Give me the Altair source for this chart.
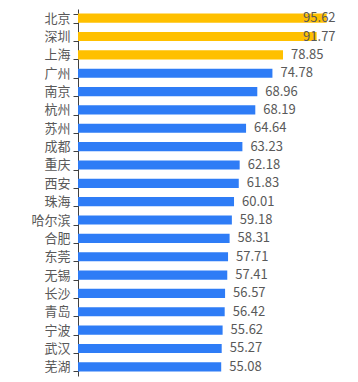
import altair as alt
import pandas as pd

cities = ["北京", "深圳", "上海", "广州", "南京", "杭州", "苏州", "成都", "重庆", "西安",
          "珠海", "哈尔滨", "合肥", "东莞", "无锡", "长沙", "青岛", "宁波", "武汉", "芜湖"]
values = [95.62, 91.77, 78.85, 74.78, 68.96, 68.19, 64.64, 63.23, 62.18, 61.83,
          60.01, 59.18, 58.31, 57.71, 57.41, 56.57, 56.42, 55.62, 55.27, 55.08]
groups = ["top"] * 3 + ["other"] * 17

df = pd.DataFrame({"city": cities, "value": values, "group": groups})

FONT = "Noto Sans CJK SC"

y_enc = alt.Y("city:N", sort=cities, title=None,
              scale=alt.Scale(paddingInner=0.5, paddingOuter=0.25),
              axis=alt.Axis(tickBand="extent", tickSize=5, tickColor="#404040",
                            domainColor="#404040", labelFont=FONT, labelFontSize=13,
                            labelColor="#595959", labelPadding=3, grid=False))

bars = alt.Chart(df).mark_bar().encode(
    y=y_enc,
    x=alt.X("value:Q", scale=alt.Scale(domain=[0, 100]), axis=None),
    color=alt.Color("group:N", scale=alt.Scale(domain=["top", "other"],
                                               range=["#FFC000", "#2E7CF6"]), legend=None),
)

labels = alt.Chart(df).transform_calculate(
    lx="min(datum.value, 83.5)"
).mark_text(align="left", baseline="middle", dx=8, font=FONT, fontSize=13,
            color="#595959").encode(
    y=alt.Y("city:N", sort=cities),
    x=alt.X("lx:Q"),
    text=alt.Text("value:Q", format=".2f"),
)

chart = (bars + labels).properties(
    width=260, height=367,
    autosize=alt.AutoSizeParams(type="none"),
    padding={"left": 78, "top": 9, "right": 20, "bottom": 6},
).configure_view(stroke=None)

chart.save("out.html", embed_options={"renderer": "svg", "actions": False})
